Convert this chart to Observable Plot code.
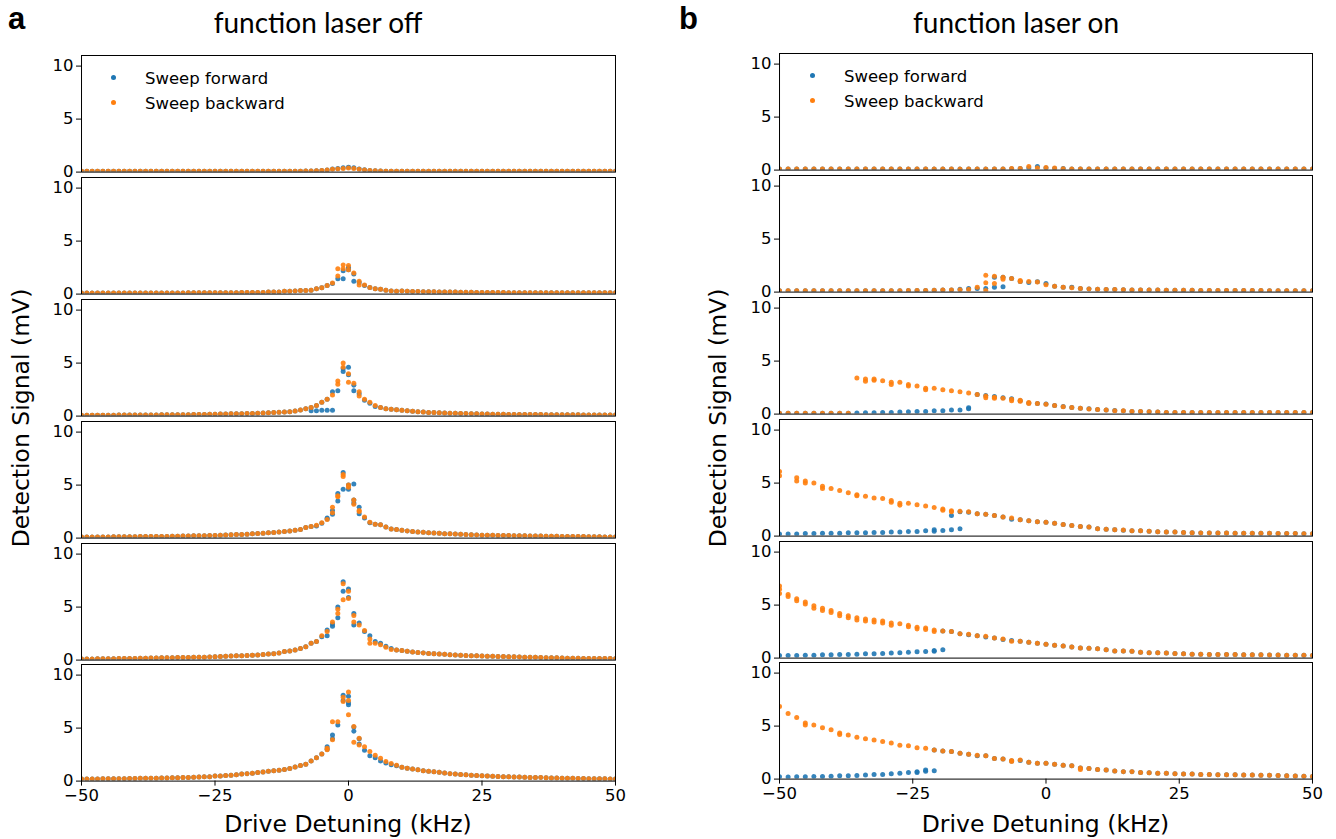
<!DOCTYPE html>
<html><head><meta charset="utf-8">
<script src="https://cdn.jsdelivr.net/npm/d3@7"></script>
<script src="https://cdn.jsdelivr.net/npm/@observablehq/plot@0.6"></script>
<style>
body{margin:0;background:#fff;}
#root{position:relative;width:1336px;height:839px;overflow:hidden;background:#fff;font-family:"DejaVu Sans",sans-serif;color:#000;}
</style></head><body><div id="root"></div>
<script>
// ---------- text ----------
const titles = ["function laser off", "function laser on"];
const panelLetters = ["a", "b"];
const xLabel = "Drive Detuning (kHz)";
const yLabel = "Detection Signal (mV)";
const legendLabels = ["Sweep forward", "Sweep backward"];
const seriesColors = ["#1f77b4", "#ff7f0e"];
const xTicks = [-50, -25, 0, 25, 50];
const yTicks = [0, 5, 10];

// ---------- left column (laser off): detuning -50..50 kHz, 1 kHz step ----------
const leftStart = -50, leftStep = 1;
const offF1 = [
0.08,0.08,0.08,0.08,0.08,0.08,0.08,0.08,0.08,0.08,
0.08,0.08,0.08,0.08,0.08,0.08,0.08,0.08,0.08,0.08,
0.08,0.08,0.08,0.08,0.08,0.08,0.08,0.08,0.08,0.08,
0.08,0.08,0.08,0.08,0.08,0.08,0.08,0.08,0.08,0.08,
0.08,0.08,
0.1,0.1,0.12,0.15,0.2,0.3,0.35,0.42,0.45,0.4,0.3,0.22,0.15,0.12,0.1,
0.08,0.08,0.08,0.08,
0.08,0.08,0.08,0.08,0.08,0.08,0.08,0.08,0.08,0.08,
0.08,0.08,0.08,0.08,0.08,0.08,0.08,0.08,0.08,0.08,
0.08,0.08,0.08,0.08,0.08,0.08,0.08,0.08,0.08,0.08,
0.08,0.08,0.08,0.08,0.08,0.08,0.08,0.08,0.08,0.08];
const offB1 = [
0.08,0.08,0.08,0.08,0.08,0.08,0.08,0.08,0.08,0.08,
0.08,0.08,0.08,0.08,0.08,0.08,0.08,0.08,0.08,0.08,
0.08,0.08,0.08,0.08,0.08,0.08,0.08,0.08,0.08,0.08,
0.08,0.08,0.08,0.08,0.08,0.08,0.08,0.08,0.08,0.08,
0.08,0.08,
0.1,0.1,0.12,0.15,0.2,0.28,0.3,0.35,0.38,0.35,0.28,0.2,0.15,0.12,0.1,
0.08,0.08,0.08,0.08,
0.08,0.08,0.08,0.08,0.08,0.08,0.08,0.08,0.08,0.08,
0.08,0.08,0.08,0.08,0.08,0.08,0.08,0.08,0.08,0.08,
0.08,0.08,0.08,0.08,0.08,0.08,0.08,0.08,0.08,0.08,
0.08,0.08,0.08,0.08,0.08,0.08,0.08,0.08,0.08,0.08];
const offF2 = [
0.1,0.1,0.1,0.1,0.1,0.1,0.1,0.1,0.1,0.1,
0.1,0.1,0.1,0.1,0.1,0.1,0.1,0.1,0.1,0.1,
0.12,0.12,0.12,0.12,0.12,0.12,0.12,0.12,0.12,0.12,
0.15,0.15,0.15,0.15,0.15,0.2,0.2,0.2,0.27,0.28,
0.3,0.35,0.35,0.37,0.5,0.6,0.8,1.0,1.45,2.2,2.5,1.9,1.1,0.8,0.62,0.5,0.45,0.37,0.3,0.28,0.3,
0.27,0.25,0.24,0.23,0.22,0.21,0.2,0.2,0.19,0.19,
0.18,0.17,0.17,0.16,0.16,0.16,0.16,0.16,0.16,0.13,
0.13,0.13,0.13,0.13,0.13,0.13,0.13,0.13,0.13,0.13,
0.13,0.13,0.13,0.13,0.13,0.13,0.13,0.13,0.13,0.13];
const offB2 = [
0.1,0.1,0.1,0.1,0.1,0.1,0.1,0.1,0.1,0.1,
0.1,0.1,0.1,0.1,0.1,0.1,0.1,0.1,0.1,0.1,
0.12,0.12,0.12,0.12,0.12,0.12,0.12,0.12,0.12,0.12,
0.15,0.15,0.15,0.15,0.15,0.2,0.2,0.2,0.27,0.28,
0.3,0.35,0.35,0.37,0.5,0.6,0.8,1.05,1.7,2.75,2.7,2.0,1.2,0.85,0.62,0.5,0.45,0.37,0.3,0.28,0.3,
0.27,0.25,0.24,0.23,0.22,0.21,0.2,0.2,0.19,0.19,
0.18,0.17,0.17,0.16,0.16,0.16,0.16,0.16,0.16,0.13,
0.13,0.13,0.13,0.13,0.13,0.13,0.13,0.13,0.13,0.13,
0.13,0.13,0.13,0.13,0.13,0.13,0.13,0.13,0.13,0.13];
const offF3 = [
0.07,0.07,0.08,0.08,0.08,0.09,0.09,0.1,0.1,0.1,
0.1,0.1,0.11,0.11,0.11,0.12,0.12,0.12,0.13,0.13,
0.13,0.14,0.15,0.16,0.17,0.18,0.19,0.2,0.21,0.22,
0.23,0.24,0.25,0.27,0.29,0.32,0.34,0.36,0.38,0.4,
0.48,0.58,0.7,0.8,1.0,1.3,1.6,2.3,2.4,4.2,4.6,2.9,2.1,1.5,1.2,0.9,0.8,0.7,0.65,0.6,0.55,
0.5,0.45,0.42,0.38,0.35,0.33,0.31,0.29,0.27,0.26,
0.25,0.24,0.23,0.22,0.2,0.19,0.18,0.17,0.17,0.16,
0.16,0.15,0.15,0.14,0.14,0.14,0.13,0.13,0.13,0.13,
0.12,0.12,0.12,0.11,0.11,0.11,0.11,0.1,0.1,0.1];
const offB3 = [
0.07,0.07,0.08,0.08,0.08,0.09,0.09,0.1,0.1,0.1,
0.1,0.1,0.11,0.11,0.11,0.12,0.12,0.12,0.13,0.13,
0.13,0.14,0.15,0.16,0.17,0.18,0.19,0.2,0.21,0.22,
0.23,0.24,0.25,0.27,0.29,0.32,0.34,0.36,0.38,0.4,
0.48,0.58,0.7,0.8,1.0,1.3,1.6,2.0,3.3,5.0,4.0,3.1,2.3,1.6,1.3,1.0,0.8,0.7,0.65,0.6,0.55,
0.5,0.45,0.42,0.38,0.35,0.33,0.31,0.29,0.27,0.26,
0.25,0.24,0.23,0.22,0.2,0.19,0.18,0.17,0.17,0.16,
0.16,0.15,0.15,0.14,0.14,0.14,0.13,0.13,0.13,0.13,
0.12,0.12,0.12,0.11,0.11,0.11,0.11,0.1,0.1,0.1];
const offF4 = [
0.1,0.1,0.1,0.11,0.11,0.11,0.12,0.12,0.12,0.13,
0.13,0.14,0.14,0.15,0.15,0.16,0.16,0.17,0.18,0.19,
0.2,0.21,0.22,0.23,0.24,0.25,0.27,0.29,0.31,0.33,
0.35,0.37,0.4,0.43,0.46,0.5,0.53,0.57,0.63,0.68,
0.73,0.8,1.0,1.1,1.15,1.4,1.8,2.25,3.5,6.2,5.0,3.3,2.3,1.9,1.45,1.3,1.25,1.05,0.85,0.8,0.73,
0.67,0.62,0.58,0.54,0.5,0.47,0.45,0.42,0.4,0.38,
0.36,0.34,0.32,0.3,0.28,0.27,0.26,0.25,0.25,0.24,
0.23,0.22,0.21,0.2,0.19,0.19,0.18,0.17,0.17,0.16,
0.15,0.15,0.14,0.14,0.13,0.12,0.12,0.11,0.11,0.1];
const offB4 = [
0.1,0.1,0.1,0.11,0.11,0.11,0.12,0.12,0.12,0.13,
0.13,0.14,0.14,0.15,0.15,0.16,0.16,0.17,0.18,0.19,
0.2,0.21,0.22,0.23,0.24,0.25,0.27,0.29,0.31,0.33,
0.35,0.37,0.4,0.43,0.46,0.5,0.53,0.57,0.63,0.68,
0.73,0.8,1.0,1.1,1.2,1.45,1.75,2.4,3.9,5.8,5.0,3.6,2.5,2.0,1.5,1.3,1.25,1.05,0.85,0.8,0.73,
0.67,0.62,0.58,0.54,0.5,0.47,0.45,0.42,0.4,0.38,
0.36,0.34,0.32,0.3,0.28,0.27,0.26,0.25,0.25,0.24,
0.23,0.22,0.21,0.2,0.19,0.19,0.18,0.17,0.17,0.16,
0.15,0.15,0.14,0.14,0.13,0.12,0.12,0.11,0.11,0.1];
const offF5 = [
0.1,0.11,0.11,0.12,0.12,0.13,0.13,0.14,0.15,0.16,
0.16,0.17,0.18,0.19,0.2,0.21,0.22,0.23,0.24,0.25,
0.25,0.26,0.27,0.28,0.3,0.32,0.34,0.36,0.38,0.4,
0.41,0.43,0.45,0.48,0.52,0.57,0.6,0.68,0.8,0.85,
0.95,1.1,1.27,1.6,1.75,2.2,2.85,3.4,4.0,7.4,6.7,4.4,3.5,2.7,2.3,1.75,1.6,1.3,1.1,0.95,0.9,
0.83,0.76,0.72,0.67,0.63,0.6,0.57,0.54,0.51,0.48,
0.46,0.44,0.42,0.4,0.38,0.37,0.36,0.35,0.33,0.32,
0.31,0.3,0.28,0.27,0.26,0.25,0.23,0.22,0.21,0.19,
0.18,0.18,0.17,0.16,0.16,0.15,0.15,0.14,0.14,0.13];
const offB5 = [
0.1,0.11,0.11,0.12,0.12,0.13,0.13,0.14,0.15,0.16,
0.16,0.17,0.18,0.19,0.2,0.21,0.22,0.23,0.24,0.25,
0.25,0.26,0.27,0.28,0.3,0.32,0.34,0.36,0.38,0.4,
0.41,0.43,0.45,0.48,0.52,0.57,0.6,0.68,0.8,0.85,
0.95,1.1,1.27,1.6,1.75,2.3,2.7,3.6,4.8,7.2,6.5,4.2,3.3,2.8,2.0,1.6,1.45,1.2,1.0,0.95,0.9,
0.83,0.76,0.72,0.67,0.63,0.6,0.57,0.54,0.51,0.48,
0.46,0.44,0.42,0.4,0.38,0.37,0.36,0.35,0.33,0.32,
0.31,0.3,0.28,0.27,0.26,0.25,0.23,0.22,0.21,0.19,
0.18,0.18,0.17,0.16,0.16,0.15,0.15,0.14,0.14,0.13];
const offF6 = [
0.19,0.19,0.2,0.2,0.21,0.21,0.22,0.23,0.23,0.24,
0.25,0.26,0.27,0.27,0.28,0.29,0.3,0.31,0.32,0.34,
0.35,0.37,0.38,0.4,0.42,0.47,0.49,0.52,0.56,0.6,
0.66,0.7,0.75,0.8,0.85,0.92,0.97,1.02,1.1,1.2,
1.33,1.46,1.6,1.9,2.2,2.55,3.0,4.0,5.3,7.6,7.4,4.7,3.5,2.9,2.4,2.2,1.9,1.7,1.55,1.45,1.3,
1.22,1.14,1.08,0.98,0.92,0.88,0.83,0.76,0.7,0.66,
0.63,0.6,0.56,0.53,0.5,0.48,0.46,0.44,0.42,0.41,
0.39,0.38,0.36,0.35,0.34,0.33,0.31,0.3,0.29,0.28,
0.27,0.26,0.25,0.24,0.23,0.22,0.21,0.21,0.2,0.19];
const offB6 = [
0.19,0.19,0.2,0.2,0.21,0.21,0.22,0.23,0.23,0.24,
0.25,0.26,0.27,0.27,0.28,0.29,0.3,0.31,0.32,0.34,
0.35,0.37,0.38,0.4,0.42,0.47,0.49,0.52,0.56,0.6,
0.66,0.7,0.75,0.8,0.85,0.92,0.97,1.02,1.1,1.2,
1.33,1.46,1.6,1.9,2.2,2.55,2.95,3.9,5.6,7.9,8.4,5.15,4.05,3.25,2.8,2.45,2.15,1.85,1.67,1.5,1.3,
1.22,1.14,1.08,0.98,0.92,0.88,0.83,0.76,0.7,0.66,
0.63,0.6,0.56,0.53,0.5,0.48,0.46,0.44,0.42,0.41,
0.39,0.38,0.36,0.35,0.34,0.33,0.31,0.3,0.29,0.28,
0.27,0.26,0.25,0.24,0.23,0.22,0.21,0.21,0.2,0.19];
// repeated sweeps near resonance: [detuning kHz, signal mV]
const offExtraF = [
  [],
  [[-1,1.45],[0,2.3],[1,1.2]],
  [[-7,0.5],[-6,0.5],[-5,0.55],[-4,0.55],[-3,0.55],[-1,4.5],[0,3.9],[1,2.4]],
  [[-1,4.6],[0,4.6],[1,5.1],[1,3.6],[-2,4.2],[2,2.9],[-4,1.9],[-3,2.6]],
  [[-2,5.0],[-1,6.5],[0,5.9],[1,3.3],[-3,3.2],[-4,2.3]],
  [[-1,8.1],[0,8.0],[0,7.2],[-3,4.35],[-4,3.25],[1,5.1],[2,4.0]]
];
const offExtraB = [
  [],
  [[-2,2.4],[-1,2.4],[0,2.3],[2,0.85]],
  [[-1,4.6],[0,3.2],[2,1.9],[-2,3.0]],
  [[-1,6.0],[0,4.8],[1,3.2],[2,2.6],[-3,2.9],[-2,4.0]],
  [[-1,5.7],[0,5.8],[-2,4.4],[1,3.6],[4,1.6]],
  [[-3,5.6],[0,6.25],[0,7.6],[1,3.67],[2,3.4],[-1,7.5],[-4,3.1]]
];

// ---------- right column (laser on): 63 samples from -50 to 50 kHz ----------
const rightStart = -50, rightStep = 100 / 62;
const onF1 = [
0.1,0.1,0.1,0.1,0.1,0.1,0.1,0.1,0.1,0.1,
0.1,0.1,0.1,0.1,0.1,0.1,0.1,0.1,0.1,0.1,
0.1,0.1,0.1,0.1,0.1,0.1,0.1,
0.12,0.15,0.2,0.35,0.2,0.15,0.15,
0.1,0.1,0.1,0.1,0.1,0.1,0.1,0.1,0.1,0.1,
0.1,0.1,0.1,0.1,0.1,0.1,0.1,0.1,0.1,0.1,
0.1,0.1,0.1,0.1,0.1,0.1,0.1,0.1,0.1];
const onB1 = [
0.1,0.1,0.1,0.1,0.1,0.1,0.1,0.1,0.1,0.1,
0.1,0.1,0.1,0.1,0.1,0.1,0.1,0.1,0.1,0.1,
0.1,0.1,0.1,0.1,0.1,0.1,0.1,
0.15,0.15,0.35,0.2,0.25,0.2,0.12,
0.1,0.1,0.1,0.1,0.1,0.1,0.1,0.1,0.1,0.1,
0.1,0.1,0.1,0.1,0.1,0.1,0.1,0.1,0.1,0.1,
0.1,0.1,0.1,0.1,0.1,0.1,0.1,0.1,0.1];
const onF2 = [
0.12,0.12,0.12,0.12,0.12,0.12,0.12,0.12,0.12,0.12,
0.12,0.12,0.12,0.12,0.12,0.14,0.15,0.16,0.18,
0.2,0.2,0.28,0.34,0.35,0.35,0.45,1.4,1.28,1.0,0.9,0.97,0.8,0.55,0.45,0.45,0.34,0.3,0.28,0.25,0.25,0.22,
0.2,0.2,0.19,0.19,0.18,0.18,0.17,0.17,0.16,0.16,0.15,0.15,0.15,0.14,0.14,0.14,0.13,0.13,0.13,0.12,0.12,0.12];
const onB2 = [
0.12,0.12,0.12,0.12,0.12,0.12,0.12,0.12,0.12,0.12,
0.12,0.12,0.12,0.12,0.12,0.14,0.15,0.16,0.18,
0.2,0.2,0.22,0.25,0.45,1.6,1.5,1.4,1.28,1.1,1.0,0.95,0.7,0.55,0.45,0.4,0.34,0.3,0.28,0.25,0.25,0.22,
0.2,0.2,0.19,0.19,0.18,0.18,0.17,0.17,0.16,0.16,0.15,0.15,0.15,0.14,0.14,0.14,0.13,0.13,0.13,0.12,0.12,0.12];
const onF3 = [
0.07,0.07,0.07,0.07,0.07,0.07,0.07,0.07,0.07,
0.1,0.12,0.12,0.15,0.16,0.19,0.22,0.25,0.25,0.31,0.31,0.38,0.38,0.5,
1.85,1.75,1.65,1.55,1.45,1.25,1.05,1.0,0.95,0.8,0.72,0.63,0.56,0.5,0.44,0.38,0.33,0.3,0.25,0.25,0.22,0.19,
0.16,0.16,0.16,0.16,0.16,0.16,0.16,0.16,0.16,0.16,0.16,0.16,0.16,0.16,0.16,0.16,0.16,0.16];
const onB3 = [
0.07,0.07,0.07,0.07,0.07,0.07,0.07,0.07,0.07,
3.4,3.3,3.2,3.15,3.0,3.0,2.8,2.65,2.45,2.45,2.3,2.2,2.1,2.0,1.85,1.7,1.6,1.5,1.4,1.3,1.1,1.0,0.93,0.8,0.7,0.63,0.56,0.47,0.44,0.38,0.31,0.31,0.25,0.25,0.22,0.19,
0.16,0.16,0.16,0.16,0.16,0.16,0.16,0.16,0.16,0.16,0.16,0.16,0.16,0.16,0.16,0.16,0.16,0.16];
const onF4 = [
0.2,0.2,0.2,0.25,0.25,0.28,0.28,0.28,0.31,0.31,0.31,0.35,0.35,0.38,0.38,0.44,0.44,0.5,0.6,0.53,0.6,0.7,
2.25,2.1,2.05,1.95,1.8,1.6,1.55,1.45,1.35,1.3,1.2,1.1,1.0,0.9,0.85,0.7,0.65,0.6,0.55,0.5,0.5,0.45,0.42,0.38,0.38,0.35,0.32,
0.3,0.3,0.29,0.29,0.28,0.28,0.27,0.26,0.26,0.25,0.24,0.24,0.23,0.22];
const onB4 = [
6.1,null,5.5,5.2,5.0,4.7,4.5,4.3,4.1,3.9,3.75,3.6,3.55,3.35,3.1,3.1,2.95,2.85,2.7,2.55,2.4,2.35,
2.3,2.1,2.05,1.95,1.8,1.7,1.55,1.45,1.35,1.3,1.2,1.1,1.0,0.9,0.85,0.7,0.65,0.6,0.58,0.5,0.5,0.45,0.42,0.38,0.38,0.35,0.32,
0.3,0.3,0.29,0.29,0.28,0.28,0.27,0.26,0.26,0.25,0.24,0.24,0.23,0.22];
const onF5 = [
0.25,0.25,0.25,0.28,0.28,0.31,0.31,0.34,0.34,0.37,0.4,0.4,0.44,0.47,0.5,0.56,0.6,0.62,0.72,0.78,
2.5,2.3,2.2,2.1,2.0,1.9,1.75,1.65,1.6,1.5,1.4,1.3,1.2,1.15,1.05,0.95,0.93,0.87,0.78,0.68,0.66,0.65,0.56,0.5,0.5,0.47,0.44,0.4,0.37,0.37,0.34,
0.34,0.33,0.33,0.32,0.31,0.31,0.3,0.29,0.28,0.27,0.26,0.25];
const onB5 = [
6.5,6.0,5.6,5.3,4.95,4.7,4.5,4.2,4.0,3.8,3.7,3.6,3.5,3.3,3.25,3.1,2.9,2.85,2.65,2.55,
2.5,2.3,2.25,2.1,2.05,1.9,1.8,1.6,1.6,1.5,1.4,1.3,1.2,1.15,1.05,0.95,0.93,0.87,0.78,0.68,0.66,0.65,0.56,0.5,0.5,0.47,0.44,0.4,0.37,0.37,0.34,
0.34,0.33,0.33,0.32,0.31,0.31,0.3,0.29,0.28,0.27,0.26,0.25];
const onF6 = [
0.22,0.2,0.22,0.22,0.25,0.25,0.28,0.31,0.31,0.35,0.38,0.44,0.44,0.5,0.54,0.63,0.7,0.75,0.79,
2.65,2.6,2.45,2.35,2.2,2.2,1.95,1.9,1.7,1.75,1.6,1.5,1.5,1.4,1.3,1.26,1.05,1.0,0.9,0.85,0.76,0.7,0.7,0.63,0.6,0.54,0.54,0.5,0.47,0.47,0.44,0.44,0.41,
0.41,0.4,0.39,0.38,0.37,0.36,0.34,0.32,0.3,0.27,0.24];
const onB6 = [
6.85,6.2,5.8,5.3,5.1,4.85,4.65,4.35,4.15,3.95,3.8,3.7,3.55,3.4,3.2,3.15,2.95,2.9,2.75,
2.65,2.6,2.45,2.35,2.25,2.2,1.95,1.9,1.75,1.8,1.6,1.5,1.5,1.4,1.3,1.26,1.05,1.0,0.9,0.85,0.76,0.7,0.7,0.63,0.6,0.54,0.54,0.5,0.47,0.47,0.44,0.44,0.41,
0.41,0.4,0.39,0.38,0.37,0.36,0.34,0.32,0.3,0.27,0.24];
// repeated sweeps: [sample index, signal mV]
const onExtraF = [
  [],
  [[25,1.4],[26,0.5]],
  [[22,0.6]],
  [[18,0.45],[20,1.95],[21,2.3]],
  [[19,2.55],[18,0.65]],
  [[18,2.75],[16,0.62],[17,0.85]]
];
const onExtraB = [
  [],
  [[24,0.87],[24,0.15],[25,0.8],[26,1.2],[28,1.0]],
  [[10,3.1],[11,3.3],[13,2.8],[15,2.65],[17,2.3],[24,1.55],[25,1.5],[29,1.0],[28,1.2],[27,1.25]],
  [[0,5.7],[2,5.2],[3,5.0],[5,4.5],[9,3.8],[13,3.2],[14,2.9],[19,2.45],[20,2.3]],
  [[0,6.1],[0,6.8],[1,5.8],[2,5.4],[3,5.1],[4,4.7],[5,4.5],[6,4.3],[7,4.0],[8,3.8],[9,3.6],[10,3.5],[11,3.4],[12,3.3],[13,3.1],[15,2.95],[16,2.75],[17,2.7],[18,2.5]],
  [[3,5.1],[7,4.2],[27,1.65],[35,0.9]]
];

const offFwd = [offF1, offF2, offF3, offF4, offF5, offF6];
const offBwd = [offB1, offB2, offB3, offB4, offB5, offB6];
const onFwd = [onF1, onF2, onF3, onF4, onF5, onF6];
const onBwd = [onB1, onB2, onB3, onB4, onB5, onB6];

// ---------- layout ----------
const root = document.getElementById("root");
const PH = 116.6, ROW = 121.8;
const ML = 60, MR = 6, MT = 4, MB = 4, MBX = 50;

function put(el, left, top) {
  el.style.position = "absolute";
  el.style.left = left + "px";
  el.style.top = top + "px";
  root.appendChild(el);
  return el;
}

function panel(fw, bw, xf, xb, showX, fw_px) {
  const f = [], b = [];
  fw.forEach(p => { if (p[1] != null) f.push(p); });
  bw.forEach(p => { if (p[1] != null) b.push(p); });
  xf.forEach(p => f.push(p));
  xb.forEach(p => b.push(p));
  return Plot.plot({
    width: ML + fw_px + MR,
    height: MT + PH + (showX ? MBX : MB),
    marginLeft: ML, marginRight: MR, marginTop: MT, marginBottom: showX ? MBX : MB,
    style: {background: "none", overflow: "visible", fontSize: "16.5px", fontFamily: "DejaVu Sans, sans-serif", color: "black"},
    x: {domain: [-50, 50], ticks: xTicks, tickSize: 5, tickPadding: 3, label: null, axis: showX ? "bottom" : null},
    y: {domain: [0, 11], ticks: yTicks, tickSize: 5, tickPadding: 3, label: null},
    marks: [
      Plot.dot(f, {x: d => d[0], y: d => d[1], r: 2.5, fill: seriesColors[0], fillOpacity: 0.9, stroke: null, clip: true}),
      Plot.dot(b, {x: d => d[0], y: d => d[1], r: 2.5, fill: seriesColors[1], fillOpacity: 0.9, stroke: null, clip: true}),
      Plot.frame({stroke: "black", strokeWidth: 1})
    ]
  });
}

const columns = [
  {fwd: offFwd, bwd: offBwd, exF: offExtraF, exB: offExtraB, start: leftStart, step: leftStep, extraIsIndex: false,
   frameLeft: 81, frameW: 534, zero0: 172, title: titles[0], letter: panelLetters[0], letterX: 8, titleX: 318, ylabX: 22,
   legX: 113, legY: 79},
  {fwd: onFwd, bwd: onBwd, exF: onExtraF, exB: onExtraB, start: rightStart, step: rightStep, extraIsIndex: true,
   frameLeft: 779, frameW: 533, zero0: 170, title: titles[1], letter: panelLetters[1], letterX: 679, titleX: 1016, ylabX: 719,
   legX: 812, legY: 77}
];

columns.forEach(c => {
  for (let r = 0; r < 6; r++) {
    const toXY = arr => arr.map((v, i) => [c.start + i * c.step, v]);
    const conv = arr => arr.map(([k, v]) => [c.extraIsIndex ? c.start + k * c.step : k, v]);
    const svg = panel(toXY(c.fwd[r]), toXY(c.bwd[r]), conv(c.exF[r]), conv(c.exB[r]), r === 5, c.frameW);
    const zero = c.zero0 + r * ROW;
    put(svg, c.frameLeft - ML, zero - PH - MT);
  }
  // title
  const t = document.createElement("div");
  t.textContent = c.title;
  t.style.cssText = "font-family:Lato,'Open Sans',sans-serif;font-size:28px;white-space:nowrap;transform:translate(-50%,0);";
  put(t, c.titleX, 5);
  // panel letter
  const l = document.createElement("div");
  l.textContent = c.letter;
  l.style.cssText = "font-family:'Liberation Sans',Arial,sans-serif;font-weight:bold;font-size:31px;line-height:1;";
  put(l, c.letterX, 3);
  // y label
  const yl = document.createElement("div");
  yl.textContent = yLabel;
  yl.style.cssText = "font-size:23.5px;white-space:nowrap;transform:translate(-50%,-50%) rotate(-90deg);line-height:1;";
  put(yl, c.ylabX, 418);
  // x label
  const xl = document.createElement("div");
  xl.textContent = xLabel;
  xl.style.cssText = "font-size:23.5px;white-space:nowrap;transform:translate(-50%,-50%);line-height:1;";
  put(xl, c.frameLeft + c.frameW / 2, 825);
  // legend
  legendLabels.forEach((lab, k) => {
    const cy = c.legY + k * 25;
    const dot = document.createElement("div");
    dot.style.cssText = `width:5px;height:5px;border-radius:50%;background:${seriesColors[k]};`;
    put(dot, c.legX - 2.5, cy - 4.5);
    const tx = document.createElement("div");
    tx.textContent = lab;
    tx.style.cssText = "font-size:16.5px;white-space:nowrap;line-height:1;transform:translate(0,-50%);";
    put(tx, c.legX + 32, cy);
  });
});
</script>
</body></html>
